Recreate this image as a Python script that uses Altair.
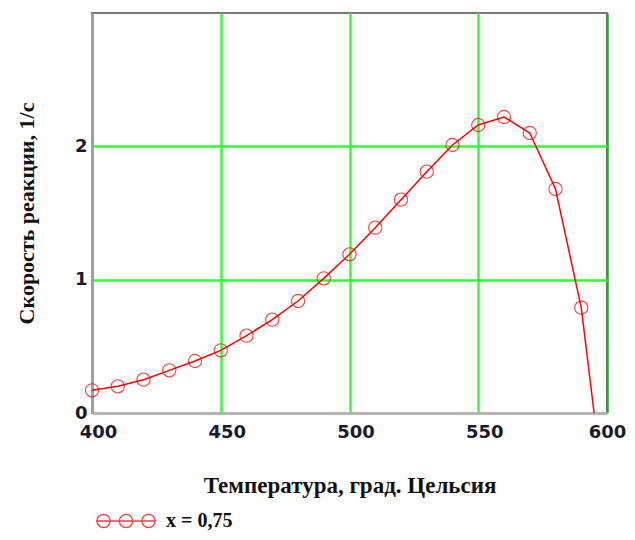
import altair as alt
import pandas as pd

# data
temps = [400, 410, 420, 430, 440, 450, 460, 470, 480, 490,
         500, 510, 520, 530, 540, 550, 560, 570, 580, 590]
rates = [0.17, 0.20, 0.25, 0.32, 0.39, 0.47, 0.58, 0.70, 0.84, 1.01,
         1.19, 1.39, 1.60, 1.81, 2.01, 2.16, 2.22, 2.10, 1.68, 0.79]
line_end_temp = [595]
line_end_rate = [0.0]
series_name = "x = 0,75"

x_ticks = [400, 450, 500, 550, 600]
y_ticks = [0, 1, 2]

pts = pd.DataFrame({"t": temps, "r": rates, "s": series_name})
line_df = pd.DataFrame({"t": temps + line_end_temp, "r": rates + line_end_rate,
                        "s": series_name})

legend_path = ("M-1,0L1,0"
               "M-0.53,0A0.22,0.22 0 1,1 -0.97,0A0.22,0.22 0 1,1 -0.53,0"
               "M0.22,0A0.22,0.22 0 1,1 -0.22,0A0.22,0.22 0 1,1 0.22,0"
               "M0.97,0A0.22,0.22 0 1,1 0.53,0A0.22,0.22 0 1,1 0.97,0")

color_scale = alt.Scale(domain=[series_name], range=["#ff0000"])
legend = alt.Legend(title=None, orient="none", legendX=3, legendY=477,
                    symbolType=legend_path, symbolSize=3600,
                    symbolStrokeWidth=1.3, symbolFillColor="transparent",
                    labelFont="Liberation Serif", labelFontWeight="bold",
                    labelFontSize=20, labelColor="#111111", labelOffset=9,
                    padding=0)

x_enc = alt.X("t:Q", scale=alt.Scale(domain=[400, 600], nice=False),
              axis=alt.Axis(values=x_ticks, title="Температура, град. Цельсия",
                            format="d", ticks=False, labelPadding=10,
                            labelOffset={"condition": {"test": "datum.value === 600", "value": 0},
                                         "value": 6},
                            labelFlush=False,
                            domainColor="#b4b4b4", domainWidth=3,
                            gridColor={"condition": {"test": "datum.value === 600", "value": "#3a9a3a"},
                                       "value": "#33ff33"},
                            gridOpacity={"condition": {"test": "datum.value === 400", "value": 0},
                                         "value": 1},
                            gridWidth=2.5, titleFontSize=23,
                            titleY=72, titleBaseline="middle"))
y_enc = alt.Y("r:Q", scale=alt.Scale(domain=[0, 3], nice=False, clamp=False),
              axis=alt.Axis(values=y_ticks, title="Скорость реакции, 1/с",
                            format="d", ticks=False, labelPadding=5,
                            domainColor="#a0a0a0", domainWidth=3,
                            gridColor="#33ff33", gridWidth=2.5,
                            gridOpacity={"condition": {"test": "datum.value === 0", "value": 0},
                                         "value": 1},
                            titleFontSize=22,
                            titleX=-66, titleY=200, titleAngle=-90,
                            titleBaseline="middle"))

line = alt.Chart(line_df).mark_line(strokeWidth=1.5, clip=True).encode(
    x=x_enc, y=y_enc,
    stroke=alt.Stroke("s:N", scale=color_scale, legend=legend),
)
points = alt.Chart(pts).mark_point(shape="circle", filled=False, size=175,
                                   strokeWidth=1.1, opacity=0.75).encode(
    x="t:Q", y="r:Q",
    stroke=alt.Stroke("s:N", scale=color_scale, legend=legend),
)

chart = alt.layer(line, points).properties(
    width=515, height=400,
    autosize=alt.AutoSizeParams(type="none"),
    padding={"left": 84, "top": 5, "right": 20, "bottom": 119},
    background="white",
).configure_view(
    stroke="#7a7a7a", strokeWidth=2
).configure_axis(
    labelFont="DejaVu Sans", labelFontWeight="bold", labelFontSize=18,
    labelColor="#1a1a2e",
    titleFont="Liberation Serif", titleFontWeight="bold",
    titleColor="#111111",
)

chart.save("out.html", embed_options={"renderer": "svg", "actions": False})
